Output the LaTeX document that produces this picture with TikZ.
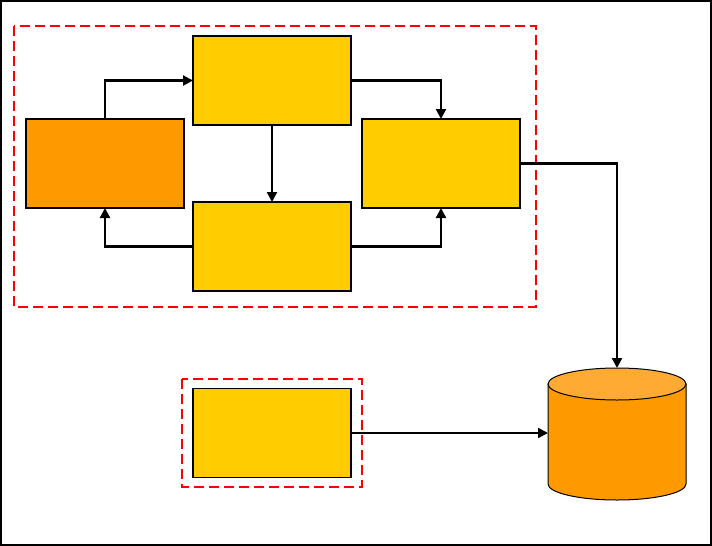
\documentclass[tikz,border=0pt]{standalone}
\usetikzlibrary{arrows.meta,shapes.geometric}
\definecolor{gold}{HTML}{FFCC00}
\definecolor{orng}{HTML}{FF9900}
\definecolor{orngtop}{HTML}{FFAA33}
\begin{document}
\begin{tikzpicture}[x=1pt,y=-1pt,
  blk/.style={draw=black,line width=1.5pt,minimum width=158pt,minimum height=89pt,inner sep=0pt,outer sep=0pt},
  gbox/.style={blk,fill=gold},
  obox/.style={blk,fill=orng},
  grp/.style={draw=red,line width=2.6pt,dash pattern=on 10pt off 5pt},
  conn/.style={draw=black,line width=2.2pt,-{Triangle[length=10pt,width=10pt]}}]
\useasboundingbox (0,0) rectangle (712,546);
\draw[line width=2pt] (1,1) rectangle (711,545);
\draw[grp] (14,26) rectangle (536,307);
\draw[grp] (182,379) rectangle (362,487);
\node[obox] (A) at (105,163.5) {};
\node[gbox] (B) at (272,80.5) {};
\node[gbox] (C) at (441,163.5) {};
\node[gbox] (D) at (272,246.5) {};
\node[gbox] (E) at (272,433) {};
% cylinder
\draw[line width=1pt,fill=orng] (548,384) -- (548,484) arc[start angle=180,end angle=360,x radius=69pt,y radius=16pt] -- (686,384) -- cycle;
\draw[line width=1pt,fill=orngtop] (617,384) ellipse[x radius=69pt,y radius=16pt];
\coordinate (Ftop) at (617,368);
\coordinate (Fleft) at (548,433);
\draw[conn] (A.north) |- (B.west);
\draw[conn] (B.east) -| (C.north);
\draw[conn] (B.south) -- (D.north);
\draw[conn] (D.west) -| (A.south);
\draw[conn] (D.east) -| (C.south);
\draw[conn] (C.east) -| (Ftop);
\draw[conn] (E.east) -- (Fleft);
\end{tikzpicture}
\end{document}
